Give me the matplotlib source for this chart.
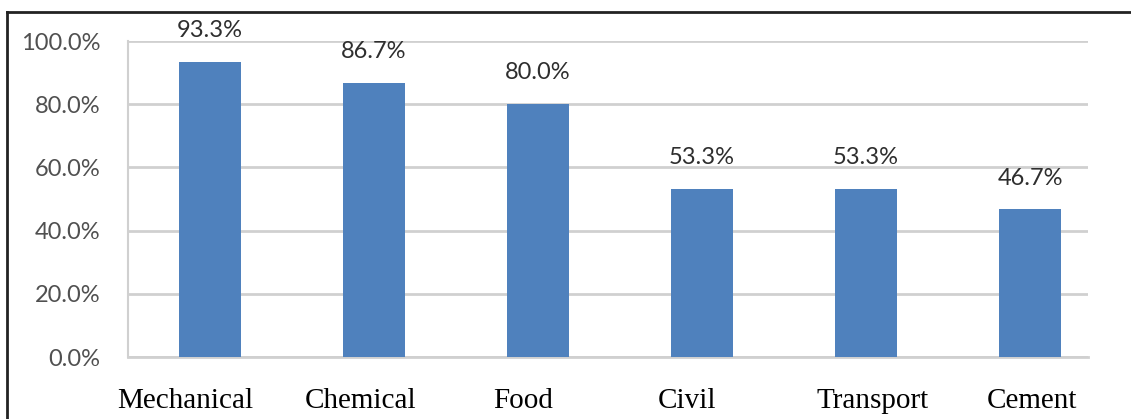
import matplotlib.pyplot as plt
from matplotlib.lines import Line2D
from matplotlib.transforms import ScaledTranslation

# ==========================
# Data
# ==========================
sectors = ["Mechanical", "Chemical", "Food", "Civil", "Transport", "Cement"]
shares = [93.3, 86.7, 80.0, 53.3, 53.3, 46.7]
y_ticks = [0, 20, 40, 60, 80, 100]

bar_color = "#4F81BD"
grid_color = "#D0D0D0"

# ==========================
# Figure
# ==========================
fig = plt.figure(figsize=(11.31, 4.19), dpi=100)
ax = fig.add_axes([128 / 1131, 62 / 419, 960 / 1131, 316 / 419])

positions = list(range(len(sectors)))
bars = ax.bar(positions, shares, width=0.372, color=bar_color, zorder=3)

ax.set_xlim(-0.5, -0.5 + 960 / 164)
ax.set_ylim(0, 100)

# ==========================
# Axes
# ==========================
ax.set_yticks(y_ticks)
ax.set_yticklabels([f"{v:.1f}%" for v in y_ticks], family="Lato", fontsize=17, color="#505050")
ax.tick_params(axis="y", length=0, pad=20)

# x labels in serif, shifted a little like in the source document
ax.set_xticks(positions)
ax.set_xticklabels(sectors, family="Liberation Serif", fontsize=21, color="black")
ax.tick_params(axis="x", length=0, pad=22)
shifts = [-25, -13, -15, -15, 7, 2]
for lab, s in zip(ax.get_xticklabels(), shifts):
    lab.set_transform(lab.get_transform() + ScaledTranslation(s / 100, 0, fig.dpi_scale_trans))

ax.yaxis.grid(True, color=grid_color, linewidth=2, zorder=0)
for side in ["top", "right"]:
    ax.spines[side].set_visible(False)
ax.spines["left"].set_color(grid_color)
ax.spines["left"].set_linewidth(1.5)
ax.spines["bottom"].set_color(grid_color)
ax.spines["bottom"].set_linewidth(2)

# ==========================
# Valeurs au-dessus des barres
# ==========================
for bar, value in zip(bars, shares):
    ax.annotate(
        f"{value:.1f}%",
        (bar.get_x() + bar.get_width() / 2, bar.get_height()),
        xytext=(0, 15),
        textcoords="offset points",
        ha="center",
        va="bottom",
        family="Lato",
        fontsize=17,
        color="#2E2E2E",
        zorder=4,
    )

# frame of the source picture (top and left edges only)
fig.add_artist(Line2D([7 / 1131, 1], [1 - 12 / 419, 1 - 12 / 419], color="#222222", linewidth=2))
fig.add_artist(Line2D([7 / 1131, 7 / 1131], [0, 1 - 12 / 419], color="#222222", linewidth=2))

plt.savefig("out.png", dpi=100)
